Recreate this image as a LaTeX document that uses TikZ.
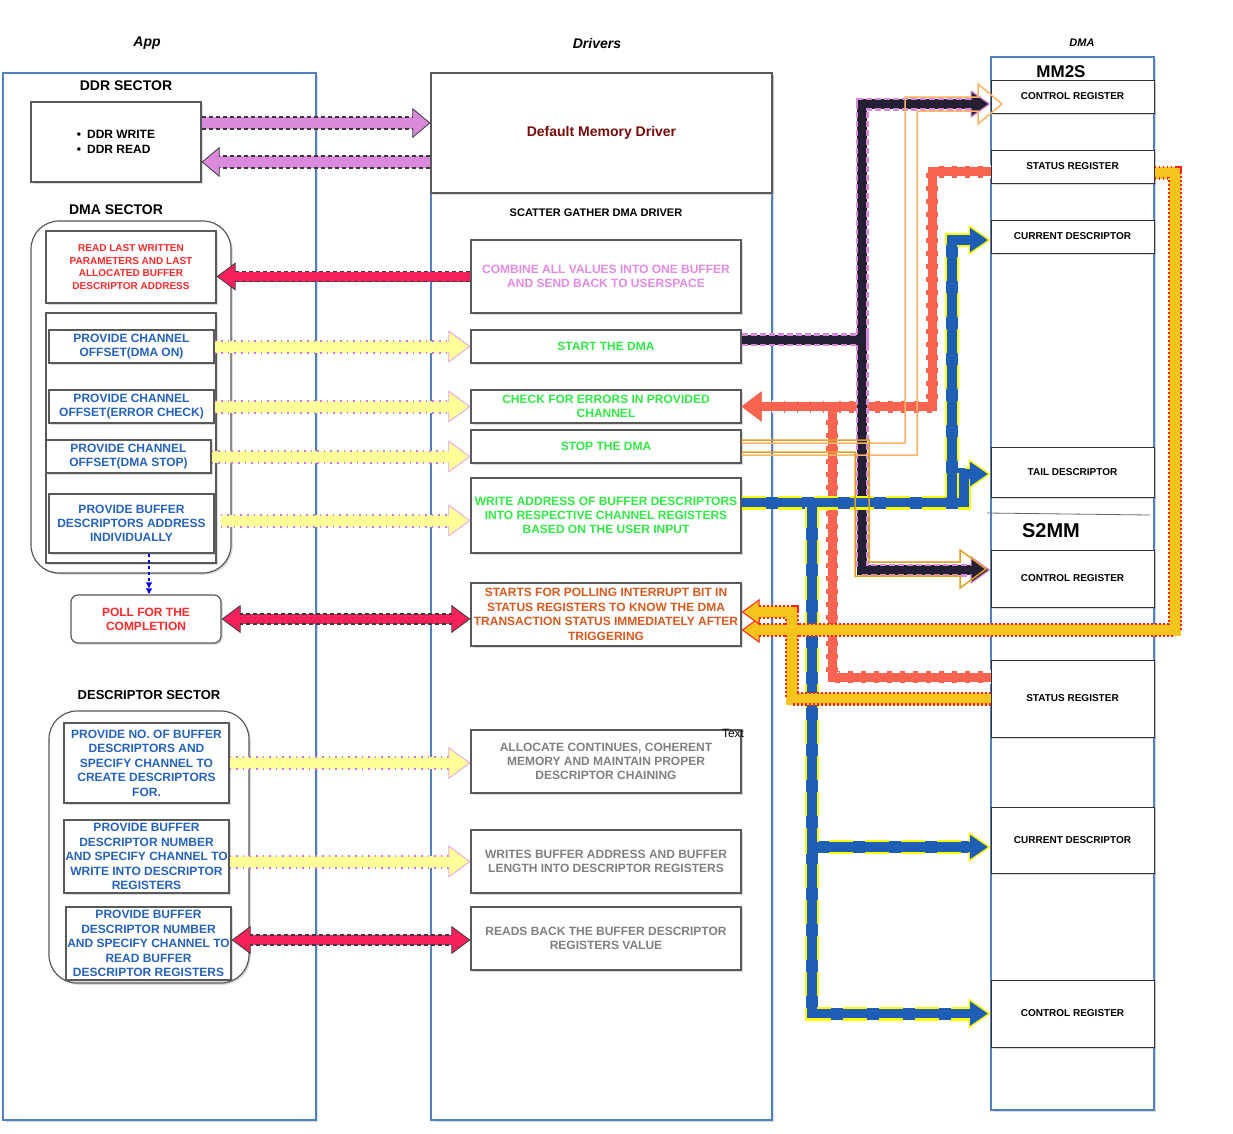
\documentclass[tikz,border=0pt]{standalone}
\usepackage{fontspec}
\setmainfont{Liberation Sans}
\usetikzlibrary{arrows.meta,calc,shadows}
\definecolor{lanebl}{HTML}{5080C0}
\definecolor{boxgr}{HTML}{595959}
\definecolor{tBlue}{HTML}{2563BD}
\definecolor{tRed}{HTML}{FF2B2B}
\definecolor{tGreen}{HTML}{33E845}
\definecolor{tPink}{HTML}{E38AE3}
\definecolor{tOrange}{HTML}{D95A1E}
\definecolor{tGray}{HTML}{808080}
\definecolor{tMaroon}{HTML}{780A0A}
\definecolor{pinkF}{HTML}{DA8ADA}
\definecolor{darkO}{HTML}{3A3A3A}
\definecolor{redF}{HTML}{F5215A}
\definecolor{yelF}{HTML}{FFFF99}
\definecolor{vioO}{HTML}{DA6FE6}
\definecolor{bkF}{HTML}{241F33}
\definecolor{bkO}{HTML}{DA8ADA}
\definecolor{salF}{HTML}{F86450}
\definecolor{blF}{HTML}{1E5EB4}
\definecolor{ylO}{HTML}{FFFF00}
\definecolor{gdF}{HTML}{F6C41C}
\definecolor{rdO}{HTML}{FF2020}
\definecolor{orL}{HTML}{FFB366}
\definecolor{orD}{HTML}{E0A020}

% straight flex arrow: fill, outline, dash, w1, w2, w3, shorten, tips, path
\newcommand\flexline[9]{%
  \draw[draw=#1,line width=#4,#7] #9;
  \draw[draw=#2,line width=#5,dash pattern=#3,#7] #9;
  \draw[draw=#1,line width=#6,#8] #9;
  \draw[draw=#1,line width=#6,#7] #9;}

\tikzset{
  wh/.style 2 args={minimum width=#1pt,minimum height=#2pt},
  shd/.style={drop shadow={shadow xshift=1.8pt,shadow yshift=-1.8pt,opacity=0.28}},
  lane/.style={draw=lanebl,line width=2pt,fill=white,shd,inner sep=0pt},
  box/.style={draw=boxgr,line width=1.2pt,fill=white,inner sep=0pt,align=center,shd,font=\bfseries\fontsize{12}{14}\selectfont},
  cont/.style={draw=boxgr,line width=1.2pt,fill=white,rounded corners=28pt,shd,inner sep=0pt},
  reg/.style={box,draw=black!80,line width=1pt,font=\bfseries\fontsize{10}{12}\selectfont},
  lbl/.style={inner sep=0pt,font=\bfseries\fontsize{14}{16}\selectfont},
  ttl/.style={inner sep=0pt,font=\bfseries\itshape\fontsize{14}{16}\selectfont},
  % salmon family
  salA/.style={draw=salF,line width=12pt,shorten >=18pt},
  salB/.style={draw=white,line width=13.5pt,dash pattern=on 8pt off 5pt,shorten >=18pt},
  salC/.style={draw=salF,line width=9pt,-{Triangle[length=20pt,width=30pt,line width'=0.8pt,color=salF,fill=salF]}},
  salD/.style={draw=salF,line width=9pt,shorten >=18pt},
  % black family
  bkA/.style={draw=bkF,line width=10pt,shorten >=18pt},
  bkB/.style={draw=bkO,line width=13pt,dash pattern=on 6pt off 3pt,shorten >=18pt},
  bkC/.style={draw=bkF,line width=8pt,-{Triangle[length=20pt,width=28pt,line width'=1.2pt,color=bkO,fill=bkF]}},
  bkD/.style={draw=bkF,line width=8pt,shorten >=18pt},
  % blue family
  blA/.style={draw=blF,line width=12pt,shorten >=20pt},
  blB/.style={draw=ylO,line width=14pt,dash pattern=on 24pt off 12pt,shorten >=20pt},
  blC/.style={draw=blF,line width=9.5pt,-{Triangle[length=22pt,width=30pt,line width'=1.4pt,color=ylO,fill=blF]}},
  blD/.style={draw=blF,line width=9.5pt,shorten >=20pt},
  % gold family
  gdA/.style={draw=gdF,line width=12pt,shorten >=16pt},
  gdB/.style={draw=rdO,line width=14pt,dash pattern=on 1.6pt off 2.4pt,shorten >=16pt},
  gdC/.style={draw=gdF,line width=9.5pt,-{Triangle[length=18pt,width=26pt,line width'=1pt,color=rdO,fill=gdF]}},
  gdD/.style={draw=gdF,line width=9.5pt,shorten >=16pt},
}

\begin{document}
\begin{tikzpicture}[x=1pt,y=-1pt]
\useasboundingbox (0,0) rectangle (1233,1133);
\fill[white] (0,0) rectangle (1233,1133);

% lanes
\node[lane,wh={313}{1047}] (applane) at (159.5,596.5) {};
\node[lane,wh={341}{1047}] (drvlane) at (601.5,596.5) {};
\node[lane,wh={163}{1053}] (dmalane) at (1072.5,583.5) {};

\node[ttl] (tapp) at (147,43) {App};
\node[ttl] (tdrv) at (597,43) {Drivers};
\node[ttl,font=\bfseries\itshape\fontsize{11}{13}\selectfont] (tdma) at (1082,43) {DMA};

% App lane
\node[lbl] (lddr) at (126,86) {DDR SECTOR};
\node[box,wh={170}{80},align=left,font=\bfseries\fontsize{12}{15}\selectfont] (ddr) at (116,142) {\textbullet\hspace{6pt}DDR WRITE\\\textbullet\hspace{6pt}DDR READ};

\node[lbl] (ldma) at (116,210) {DMA SECTOR};
\node[cont,wh={200}{352}] (dmacont) at (131,397) {};
\node[box,wh={170}{72},text=tRed,font=\bfseries\fontsize{10}{12.5}\selectfont] (readlast) at (131,267) {READ LAST WRITTEN\\PARAMETERS AND LAST\\ALLOCATED BUFFER\\DESCRIPTOR ADDRESS};
\node[box,wh={170}{250}] (grp) at (131,438) {};
\node[box,wh={165}{33},text=tBlue] (dmaon) at (131.5,346.5) {PROVIDE CHANNEL\\OFFSET(DMA ON)};
\node[box,wh={165}{33},text=tBlue] (errchk) at (131.5,406.5) {PROVIDE CHANNEL\\OFFSET(ERROR CHECK)};
\node[box,wh={165}{33},text=tBlue] (dmastop) at (128.5,456.5) {PROVIDE CHANNEL\\OFFSET(DMA STOP)};
\node[box,wh={165}{59},text=tBlue] (bdaddr) at (131.5,523.5) {PROVIDE BUFFER\\DESCRIPTORS ADDRESS\\INDIVIDUALLY};
\node[box,wh={150}{48},rounded corners=7pt,text=tRed] (poll) at (146,619) {POLL FOR THE\\COMPLETION};

\node[lbl,font=\bfseries\fontsize{13}{15}\selectfont] (ldesc) at (149,695) {DESCRIPTOR SECTOR};
\node[cont,wh={200}{272}] (desccont) at (149,847) {};
\node[box,wh={165}{80},text=tBlue,font=\bfseries\fontsize{12}{14.5}\selectfont] (d1) at (146.5,763) {PROVIDE NO. OF BUFFER\\DESCRIPTORS AND\\SPECIFY CHANNEL TO\\CREATE DESCRIPTORS\\FOR.};
\node[box,wh={165}{73},text=tBlue,font=\bfseries\fontsize{12}{14.5}\selectfont] (d2) at (146.5,856.5) {PROVIDE BUFFER\\DESCRIPTOR NUMBER\\AND SPECIFY CHANNEL TO\\WRITE INTO DESCRIPTOR\\REGISTERS};
\node[box,wh={165}{73},text=tBlue,font=\bfseries\fontsize{12}{14.5}\selectfont] (d3) at (148.5,943.5) {PROVIDE BUFFER\\DESCRIPTOR NUMBER\\AND SPECIFY CHANNEL TO\\READ BUFFER\\DESCRIPTOR REGISTERS};

% Drivers lane
\node[box,wh={341}{120},text=tMaroon,font=\bfseries\fontsize{14}{16}\selectfont] (def) at (601.5,133) {Default Memory Driver};
\node[lbl,font=\bfseries\fontsize{11}{13}\selectfont] (lsg) at (596,213) {SCATTER GATHER DMA DRIVER};
\node[box,wh={270}{73},text=tPink] (combine) at (606,276.5) {COMBINE ALL VALUES INTO ONE BUFFER\\AND SEND BACK TO USERSPACE};
\node[box,wh={270}{33},text=tGreen] (start) at (606,346.5) {START THE DMA};
\node[box,wh={270}{33},text=tGreen] (check) at (606,406.5) {CHECK FOR ERRORS IN PROVIDED\\CHANNEL};
\node[box,wh={270}{33},text=tGreen] (stop) at (606,446.5) {STOP THE DMA};
\node[box,wh={270}{75},text=tGreen] (write) at (606,515.5) {WRITE ADDRESS OF BUFFER DESCRIPTORS\\INTO RESPECTIVE CHANNEL REGISTERS\\BASED ON THE USER INPUT};
\node[box,wh={270}{63},text=tOrange,font=\bfseries\fontsize{12}{14.5}\selectfont] (polling) at (606,614.5) {STARTS FOR POLLING INTERRUPT BIT IN\\STATUS REGISTERS TO KNOW THE DMA\\TRANSACTION STATUS IMMEDIATELY AFTER\\TRIGGERING};
\node[box,wh={270}{63},text=tGray] (alloc) at (606,761.5) {ALLOCATE CONTINUES, COHERENT\\MEMORY AND MAINTAIN PROPER\\DESCRIPTOR CHAINING};
\node[box,wh={270}{63},text=tGray] (writes) at (606,861.5) {WRITES BUFFER ADDRESS AND BUFFER\\LENGTH INTO DESCRIPTOR REGISTERS};
\node[box,wh={270}{63},text=tGray] (reads) at (606,938.5) {READS BACK THE BUFFER DESCRIPTOR\\REGISTERS VALUE};
\node[inner sep=0pt,font=\fontsize{12}{14}\selectfont] (txt) at (733,733) {Text};

% DMA lane
\node[lbl,font=\bfseries\fontsize{17}{19}\selectfont] (lmm2s) at (1061,72) {MM2S};
\node[reg,wh={163}{33}] (mcr) at (1072.5,96.5) {CONTROL REGISTER};
\node[reg,wh={163}{33}] (msr) at (1072.5,166.5) {STATUS REGISTER};
\node[reg,wh={163}{33}] (mcd) at (1072.5,236.5) {CURRENT DESCRIPTOR};
\node[reg,wh={163}{50}] (mtd) at (1072.5,472) {TAIL DESCRIPTOR};
\draw[black!60,line width=0.8pt] (987,513) -- (1150,515);
\node[lbl,font=\bfseries\fontsize{20}{22}\selectfont] (ls2mm) at (1051,531) {S2MM};
\node[reg,wh={163}{57}] (scr) at (1072.5,578.5) {CONTROL REGISTER};
\node[reg,wh={163}{77}] (ssr) at (1072.5,698.5) {STATUS REGISTER};
\node[reg,wh={163}{66}] (scd) at (1072.5,840) {CURRENT DESCRIPTOR};
\node[reg,wh={163}{67}] (sctl) at (1072.5,1013.5) {CONTROL REGISTER};

% ---------- left connectors ----------
\coordinate (pk1) at ($(ddr.east)+(0,-19)$);
\coordinate (pk2) at ($(def.west)+(0,29)$);
\flexline{pinkF}{darkO}{on 4pt off 3pt}{12pt}{13.5pt}{10.5pt}{shorten >=16pt}{-{Triangle[length=18pt,width=30pt,line width'=0.8pt,color=darkO,fill=pinkF]}}{(pk1) -- (pk1 -| def.west)}
\flexline{pinkF}{darkO}{on 4pt off 3pt}{12pt}{13.5pt}{10.5pt}{shorten >=16pt}{-{Triangle[length=18pt,width=30pt,line width'=0.8pt,color=darkO,fill=pinkF]}}{(pk2) -- (pk2 -| ddr.east)}

\flexline{redF}{darkO}{on 4pt off 3pt}{10pt}{11.5pt}{8.5pt}{shorten >=17pt}{-{Triangle[length=19pt,width=28pt,line width'=0.8pt,color=darkO,fill=redF]}}{(combine.west) -- (combine.west -| readlast.east)}
\flexline{redF}{darkO}{on 4pt off 3pt}{10pt}{11.5pt}{8.5pt}{shorten >=17pt,shorten <=17pt}{{Triangle[length=19pt,width=28pt,line width'=0.8pt,color=darkO,fill=redF]}-{Triangle[length=19pt,width=28pt,line width'=0.8pt,color=darkO,fill=redF]}}{(poll.east) -- (poll.east -| polling.west)}
\coordinate (rd3) at ($(d3.east)+(0,-3.5)$);
\flexline{redF}{darkO}{on 4pt off 3pt}{10pt}{11.5pt}{8.5pt}{shorten >=17pt,shorten <=17pt}{{Triangle[length=19pt,width=28pt,line width'=0.8pt,color=darkO,fill=redF]}-{Triangle[length=19pt,width=28pt,line width'=0.8pt,color=darkO,fill=redF]}}{(rd3) -- (rd3 -| reads.west)}

\flexline{yelF}{vioO}{on 1.6pt off 5pt}{12pt}{14pt}{10pt}{shorten >=20pt}{-{Triangle[length=22pt,width=32pt,line width'=0.8pt,color=vioO!70,fill=yelF]}}{(dmaon.east) -- (start.west)}
\flexline{yelF}{vioO}{on 1.6pt off 5pt}{12pt}{14pt}{10pt}{shorten >=20pt}{-{Triangle[length=22pt,width=32pt,line width'=0.8pt,color=vioO!70,fill=yelF]}}{(errchk.east) -- (check.west)}
\flexline{yelF}{vioO}{on 1.6pt off 5pt}{12pt}{14pt}{10pt}{shorten >=20pt}{-{Triangle[length=22pt,width=32pt,line width'=0.8pt,color=vioO!70,fill=yelF]}}{(dmastop.east) -- (dmastop.east -| stop.west)}
\flexline{yelF}{vioO}{on 1.6pt off 5pt}{12pt}{14pt}{10pt}{shorten >=20pt}{-{Triangle[length=22pt,width=32pt,line width'=0.8pt,color=vioO!70,fill=yelF]}}{($(bdaddr.east)+(6,-3)$) -- ($(bdaddr.east -| write.west)+(0,-3)$)}
\flexline{yelF}{vioO}{on 1.6pt off 5pt}{12pt}{14pt}{10pt}{shorten >=20pt}{-{Triangle[length=22pt,width=32pt,line width'=0.8pt,color=vioO!70,fill=yelF]}}{(d1.east) -- (d1.east -| alloc.west)}
\coordinate (yd2) at ($(d2.east)+(0,5)$);
\flexline{yelF}{vioO}{on 1.6pt off 5pt}{12pt}{14pt}{10pt}{shorten >=20pt}{-{Triangle[length=22pt,width=32pt,line width'=0.8pt,color=vioO!70,fill=yelF]}}{(yd2) -- (yd2 -| writes.west)}

\draw[draw=blue!90!black,line width=1.2pt,dashed,-{Latex[length=6pt,width=7pt]Latex[length=6pt,width=7pt]}] ($(bdaddr.south)+(17.5,0)$) -- ($(poll.north)+(3,0)$);

% ---------- right connectors ----------
\coordinate (bk0) at ($(start.east)+(0,-7)$);
\coordinate (bl0) at ($(write.east)+(0,-13)$);
\newcommand\pSalA{($(msr.west)+(0,5)$) -- (932,171.5) -- (932,406.5) -- (check.east)}
\newcommand\pSalB{($(ssr.west)+(0,-21.5)$) -- (832,677) -- (832,406.5) -- (check.east)}
\newcommand\pBkA{(bk0) -- (862,339.5) -- (862,104) -- ($(mcr.west)+(0,7.5)$)}
\newcommand\pBkB{(bk0) -- (862,339.5) -- (862,570) -- ($(scr.west)+(0,-8.5)$)}
\newcommand\pBlA{(bl0) -- (952,502.5) -- (952,240) -- ($(mcd.west)+(0,3.5)$)}
\newcommand\pBlB{(bl0) -- (964,502.5) -- (964,474) -- ($(mtd.west)+(0,2)$)}
\newcommand\pBlC{(bl0) -- (812,502.5) -- (812,847) -- ($(scd.west)+(0,7)$)}
\newcommand\pBlD{(bl0) -- (812,502.5) -- (812,1013.5) -- (sctl.west)}
\newcommand\pGdA{($(msr.east)+(0,6)$) -- (1175,172.5) -- (1175,630) -- ($(polling.east)+(0,15.5)$)}
\newcommand\pGdB{(ssr.west) -- (792,698.5) -- (792,612) -- ($(polling.east)+(0,-2.5)$)}

\draw[salA] \pSalA; \draw[salA] \pSalB;
\draw[salB] \pSalA; \draw[salB] \pSalB;
\draw[salC] \pSalA; \draw[salC] \pSalB;
\draw[salD] \pSalA; \draw[salD] \pSalB;

\draw[bkA] \pBkA; \draw[bkA] \pBkB;
\draw[bkB] \pBkA; \draw[bkB] \pBkB;
\draw[bkC] \pBkA; \draw[bkC] \pBkB;
\draw[bkD] \pBkA; \draw[bkD] \pBkB;

\draw[blA] \pBlA; \draw[blA] \pBlB; \draw[blA] \pBlC; \draw[blA] \pBlD;
\draw[blB] \pBlA; \draw[blB] \pBlB; \draw[blB] \pBlC; \draw[blB] \pBlD;
\draw[blC] \pBlA; \draw[blC] \pBlB; \draw[blC] \pBlC; \draw[blC] \pBlD;
\draw[blD] \pBlA; \draw[blD] \pBlB; \draw[blD] \pBlC; \draw[blD] \pBlD;

\draw[gdA] \pGdA; \draw[gdA] \pGdB;
\draw[gdB] \pGdA; \draw[gdB] \pGdB;
\draw[gdC] \pGdA; \draw[gdC] \pGdB;
\draw[gdD] \pGdA; \draw[gdD] \pGdB;

% hollow orange arrows from STOP THE DMA
\draw[orL,line width=1.5pt,line join=miter] ($(stop.east)+(0,-3.5)$) -- (905,443) -- (905,97) -- (978,97) -- (978,84) -- (1002,104) -- (978,124) -- (978,111) -- (917,111) -- (917,455) -- ($(stop.east)+(0,8.5)$);
\draw[orD,line width=1.5pt,line join=miter] ($(stop.east)+(0,-6.5)$) -- (869,440) -- (869,562) -- (960,562) -- (960,550) -- (986,569) -- (960,588) -- (960,576) -- (855,576) -- (855,452) -- ($(stop.east)+(0,5.5)$);
\end{tikzpicture}
\end{document}
